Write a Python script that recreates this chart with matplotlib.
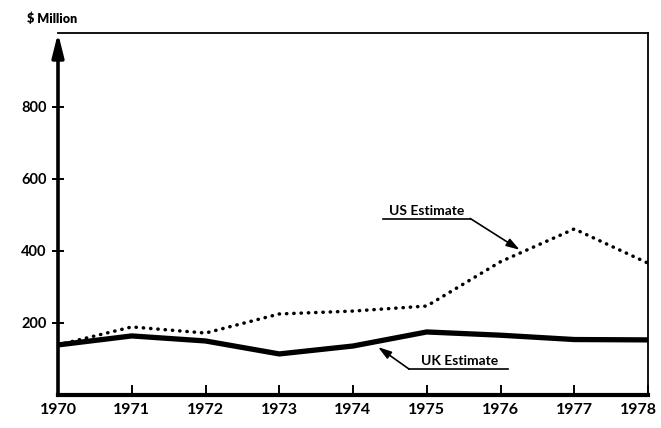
import matplotlib
matplotlib.use("Agg")
import matplotlib.pyplot as plt
import matplotlib.transforms as mtransforms

# values ($ million)
years = [1970, 1971, 1972, 1973, 1974, 1975, 1976, 1977, 1978]
us_estimate = [139, 189, 172, 225, 233, 247, 370, 461, 366]
uk_estimate = [139, 164, 150, 114, 136, 175, 166, 154, 153]
y_ticks = [200, 400, 600, 800]

plt.rcParams["font.family"] = ["Lato", "DejaVu Sans"]
plt.rcParams["font.weight"] = "bold"

fig = plt.figure(figsize=(6.61, 4.28), dpi=100)
ax = fig.add_axes([58 / 661, 33 / 428, 590 / 661, 362 / 428])

ax.plot(years, uk_estimate, color="black", lw=3.8, solid_capstyle="butt",
        solid_joinstyle="round", zorder=3)
ax.plot(years, us_estimate, color="black", lw=2.5,
        linestyle=(0, (0.1, 2.0)), dash_capstyle="round", zorder=3)

ax.set_xlim(1970, 1978)
ax.set_ylim(0, 1005)

# frame: heavy left and bottom axes, thin top and right
ax.spines["left"].set_visible(False)
ax.spines["bottom"].set_linewidth(3)
ax.spines["top"].set_linewidth(1.3)
ax.spines["right"].set_linewidth(1.3)
ax.annotate("", xy=(1970, 1005), xytext=(1970, 0), xycoords="data",
            arrowprops=dict(arrowstyle="-|>,head_length=1.4,head_width=0.35",
                            color="black", lw=2.6, shrinkA=0, shrinkB=0),
            annotation_clip=False, zorder=5)

ax.set_xticks(years)
ax.set_xticklabels([str(y) for y in years])
ax.set_yticks(y_ticks)
ax.set_yticklabels([str(v) for v in y_ticks])
ax.tick_params(axis="x", direction="in", length=7, width=1.4, pad=6,
               labelsize=11.5)
ax.tick_params(axis="y", direction="inout", length=8, width=1.4, pad=4,
               labelsize=10.5)
for lab in ax.get_xticklabels() + ax.get_yticklabels():
    lab.set_fontweight("bold")
# last year label sits at the right edge; nudge it inside the picture
last = ax.get_xticklabels()[-1]
last.set_transform(last.get_transform() +
                   mtransforms.ScaledTranslation(-0.1, 0, fig.dpi_scale_trans))

# labels with underline leaders
ax.text(1975.0, 500, "US Estimate", ha="center", va="baseline",
        fontsize=10, fontweight="bold")
ax.plot([1974.41, 1975.59], [490, 490], color="black", lw=1.2)
ax.annotate("", xy=(1976.26, 403), xytext=(1975.59, 490),
            arrowprops=dict(arrowstyle="-|>,head_length=0.8,head_width=0.25",
                            color="black", lw=1.2, shrinkA=0, shrinkB=0))

ax.text(1975.44, 83, "UK Estimate", ha="center", va="baseline",
        fontsize=10, fontweight="bold")
ax.plot([1974.76, 1976.10], [72, 72], color="black", lw=1.2)
ax.annotate("", xy=(1974.34, 133), xytext=(1974.76, 72),
            arrowprops=dict(arrowstyle="-|>,head_length=0.8,head_width=0.25",
                            color="black", lw=1.2, shrinkA=0, shrinkB=0))

fig.text(27 / 661, 1 - 19 / 428, "$ Million", ha="left", va="center",
         fontsize=9, fontweight="heavy")

fig.savefig("out.png", dpi=100)
